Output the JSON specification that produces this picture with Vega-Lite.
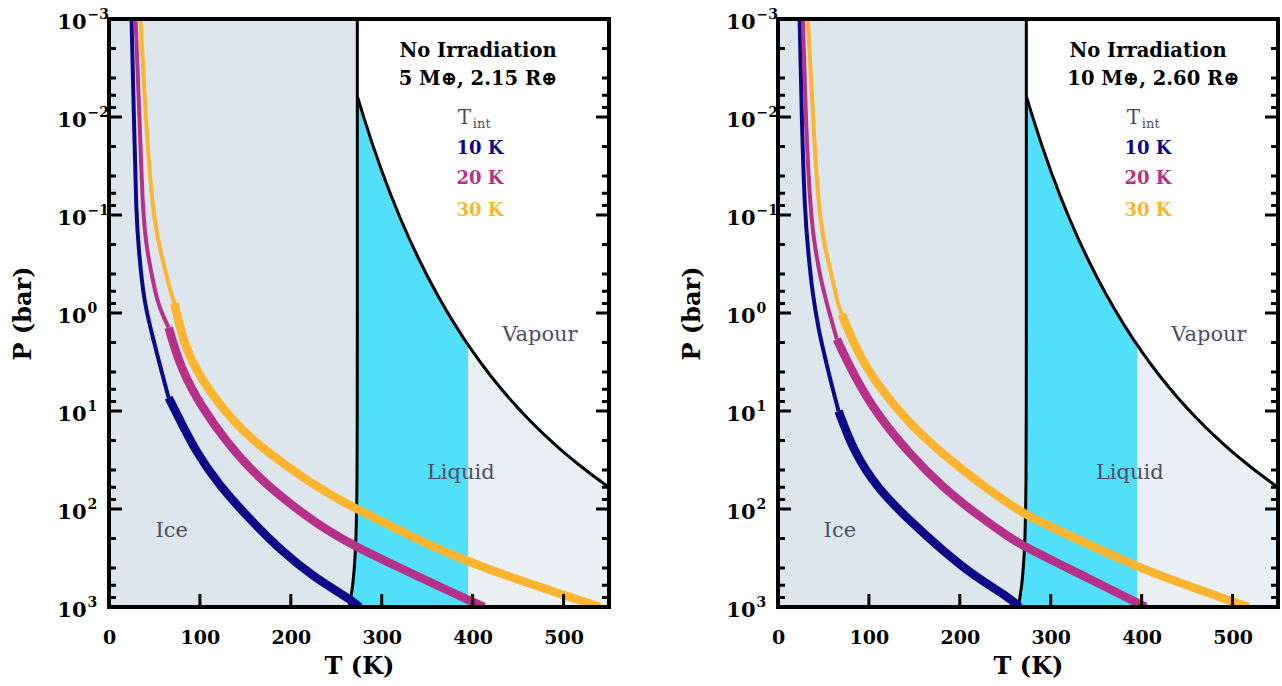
{
  "$schema": "https://vega.github.io/schema/vega-lite/v6.json",
  "background": "white",
  "padding": {"left": 11, "top": 7, "right": 0, "bottom": 0},
  "bounds": "flush",
  "spacing": 169,
  "config": {
    "view": {"stroke": null},
    "font": "DejaVu Serif",
    "axis": {
      "domain": false, "ticks": false, "grid": false, "zindex": 1,
      "labelFont": "DejaVu Serif", "labelFontWeight": "bold", "labelFontSize": 19, "labelColor": "black",
      "titleFont": "DejaVu Serif", "titleFontWeight": "bold", "titleFontSize": 24, "titleColor": "black"
    }
  },
  "datasets": {
    "yticks": [
      {"P": 0.001, "k": "major"}, {"P": 0.002, "k": "minor"}, {"P": 0.004, "k": "minor"}, {"P": 0.006, "k": "minor"}, {"P": 0.008, "k": "minor"},
      {"P": 0.01, "k": "major"}, {"P": 0.02, "k": "minor"}, {"P": 0.04, "k": "minor"}, {"P": 0.06, "k": "minor"}, {"P": 0.08, "k": "minor"},
      {"P": 0.1, "k": "major"}, {"P": 0.2, "k": "minor"}, {"P": 0.4, "k": "minor"}, {"P": 0.6, "k": "minor"}, {"P": 0.8, "k": "minor"},
      {"P": 1, "k": "major"}, {"P": 2, "k": "minor"}, {"P": 4, "k": "minor"}, {"P": 6, "k": "minor"}, {"P": 8, "k": "minor"},
      {"P": 10, "k": "major"}, {"P": 20, "k": "minor"}, {"P": 40, "k": "minor"}, {"P": 60, "k": "minor"}, {"P": 80, "k": "minor"},
      {"P": 100, "k": "major"}, {"P": 200, "k": "minor"}, {"P": 400, "k": "minor"}, {"P": 600, "k": "minor"}, {"P": 800, "k": "minor"},
      {"P": 1000, "k": "major"}
    ],
    "xticks": [{"T": 100}, {"T": 200}, {"T": 300}, {"T": 400}, {"T": 500}],
    "sat": [
      {"T": 273.16, "P": 0.00612}, {"T": 280, "P": 0.00991}, {"T": 290, "P": 0.0192}, {"T": 300, "P": 0.0354},
      {"T": 310, "P": 0.0623}, {"T": 320, "P": 0.1055}, {"T": 330, "P": 0.1719}, {"T": 340, "P": 0.2713},
      {"T": 350, "P": 0.4163}, {"T": 360, "P": 0.6218}, {"T": 370, "P": 0.9065}, {"T": 380, "P": 1.2916},
      {"T": 390, "P": 1.802}, {"T": 395, "P": 2.11}, {"T": 400, "P": 2.4663}, {"T": 410, "P": 3.3169},
      {"T": 420, "P": 4.3897}, {"T": 430, "P": 5.7237}, {"T": 440, "P": 7.3609}, {"T": 450, "P": 9.3464},
      {"T": 460, "P": 11.726}, {"T": 470, "P": 14.551}, {"T": 480, "P": 17.873}, {"T": 490, "P": 21.747},
      {"T": 500, "P": 26.231}, {"T": 510, "P": 31.384}, {"T": 520, "P": 37.27}, {"T": 530, "P": 43.955},
      {"T": 540, "P": 51.506}, {"T": 550, "P": 59.993}
    ],
    "melt": [
      {"T": 273.16, "P": 0.001}, {"T": 273.16, "P": 1}, {"T": 273.08, "P": 10}, {"T": 272.8, "P": 50},
      {"T": 272.4, "P": 100}, {"T": 271.6, "P": 200}, {"T": 270.7, "P": 300}, {"T": 269.8, "P": 400},
      {"T": 268.9, "P": 500}, {"T": 268.0, "P": 600}, {"T": 267.0, "P": 700}, {"T": 266.1, "P": 800},
      {"T": 265.2, "P": 900}, {"T": 264.2, "P": 1000}
    ],
    "liquid": [
      {"P": 0.00612, "T": 273.16, "T2": 273.16}, {"P": 0.00991, "T": 273.16, "T2": 280}, {"P": 0.0192, "T": 273.16, "T2": 290},
      {"P": 0.0354, "T": 273.16, "T2": 300}, {"P": 0.0623, "T": 273.16, "T2": 310}, {"P": 0.1055, "T": 273.16, "T2": 320},
      {"P": 0.1719, "T": 273.16, "T2": 330}, {"P": 0.2713, "T": 273.16, "T2": 340}, {"P": 0.4163, "T": 273.16, "T2": 350},
      {"P": 0.6218, "T": 273.16, "T2": 360}, {"P": 0.9065, "T": 273.16, "T2": 370}, {"P": 1.2916, "T": 273.16, "T2": 380},
      {"P": 1.802, "T": 273.15, "T2": 390}, {"P": 2.11, "T": 273.15, "T2": 395}, {"P": 10, "T": 273.08, "T2": 395},
      {"P": 50, "T": 272.8, "T2": 395}, {"P": 100, "T": 272.4, "T2": 395}, {"P": 200, "T": 271.6, "T2": 395},
      {"P": 300, "T": 270.7, "T2": 395}, {"P": 400, "T": 269.8, "T2": 395}, {"P": 500, "T": 268.9, "T2": 395},
      {"P": 600, "T": 268.0, "T2": 395}, {"P": 700, "T": 267.0, "T2": 395}, {"P": 800, "T": 266.1, "T2": 395},
      {"P": 900, "T": 265.2, "T2": 395}, {"P": 1000, "T": 264.2, "T2": 395}
    ],
    "curves": [
      {"p": "a", "s": "10 K", "z": "radiative", "T": 24.8, "P": 0.001}, {"p": "a", "s": "10 K", "z": "radiative", "T": 27.4, "P": 0.01},
      {"p": "a", "s": "10 K", "z": "radiative", "T": 29.9, "P": 0.1}, {"p": "a", "s": "10 K", "z": "radiative", "T": 32.8, "P": 0.233},
      {"p": "a", "s": "10 K", "z": "radiative", "T": 38.3, "P": 0.755}, {"p": "a", "s": "10 K", "z": "radiative", "T": 47.4, "P": 1.65},
      {"p": "a", "s": "10 K", "z": "radiative", "T": 56.6, "P": 3.61}, {"p": "a", "s": "10 K", "z": "radiative", "T": 65.6, "P": 7.31},
      {"p": "a", "s": "10 K", "z": "convective", "T": 65.6, "P": 7.31}, {"p": "a", "s": "10 K", "z": "convective", "T": 73.0, "P": 10},
      {"p": "a", "s": "10 K", "z": "convective", "T": 94.9, "P": 25.6}, {"p": "a", "s": "10 K", "z": "convective", "T": 120.4, "P": 56},
      {"p": "a", "s": "10 K", "z": "convective", "T": 153.2, "P": 122.7}, {"p": "a", "s": "10 K", "z": "convective", "T": 189.6, "P": 268.5},
      {"p": "a", "s": "10 K", "z": "convective", "T": 226.1, "P": 502}, {"p": "a", "s": "10 K", "z": "convective", "T": 262.6, "P": 803},
      {"p": "a", "s": "10 K", "z": "convective", "T": 275.7, "P": 1000},
      {"p": "a", "s": "20 K", "z": "radiative", "T": 29.2, "P": 0.001}, {"p": "a", "s": "20 K", "z": "radiative", "T": 33.6, "P": 0.01},
      {"p": "a", "s": "20 K", "z": "radiative", "T": 37.2, "P": 0.1}, {"p": "a", "s": "20 K", "z": "radiative", "T": 41.9, "P": 0.233},
      {"p": "a", "s": "20 K", "z": "radiative", "T": 48, "P": 0.45}, {"p": "a", "s": "20 K", "z": "radiative", "T": 53, "P": 0.755},
      {"p": "a", "s": "20 K", "z": "radiative", "T": 60, "P": 1.1}, {"p": "a", "s": "20 K", "z": "radiative", "T": 65.6, "P": 1.41},
      {"p": "a", "s": "20 K", "z": "convective", "T": 65.6, "P": 1.41}, {"p": "a", "s": "20 K", "z": "convective", "T": 78.4, "P": 3.61},
      {"p": "a", "s": "20 K", "z": "convective", "T": 102.1, "P": 9.25}, {"p": "a", "s": "20 K", "z": "convective", "T": 131.3, "P": 21.9},
      {"p": "a", "s": "20 K", "z": "convective", "T": 164.1, "P": 47.9}, {"p": "a", "s": "20 K", "z": "convective", "T": 204.3, "P": 97},
      {"p": "a", "s": "20 K", "z": "convective", "T": 240.7, "P": 167.5}, {"p": "a", "s": "20 K", "z": "convective", "T": 273.5, "P": 247},
      {"p": "a", "s": "20 K", "z": "convective", "T": 310, "P": 360}, {"p": "a", "s": "20 K", "z": "convective", "T": 346.5, "P": 521},
      {"p": "a", "s": "20 K", "z": "convective", "T": 382.9, "P": 751}, {"p": "a", "s": "20 K", "z": "convective", "T": 412.5, "P": 1000},
      {"p": "a", "s": "30 K", "z": "radiative", "T": 34.7, "P": 0.001}, {"p": "a", "s": "30 K", "z": "radiative", "T": 40.2, "P": 0.01},
      {"p": "a", "s": "30 K", "z": "radiative", "T": 48.2, "P": 0.1}, {"p": "a", "s": "30 K", "z": "radiative", "T": 56.6, "P": 0.233},
      {"p": "a", "s": "30 K", "z": "radiative", "T": 62, "P": 0.372}, {"p": "a", "s": "30 K", "z": "radiative", "T": 67.5, "P": 0.597},
      {"p": "a", "s": "30 K", "z": "radiative", "T": 71.9, "P": 0.791},
      {"p": "a", "s": "30 K", "z": "convective", "T": 71.9, "P": 0.791}, {"p": "a", "s": "30 K", "z": "convective", "T": 83.9, "P": 2.44},
      {"p": "a", "s": "30 K", "z": "convective", "T": 109.4, "P": 6.25}, {"p": "a", "s": "30 K", "z": "convective", "T": 145.8, "P": 16},
      {"p": "a", "s": "30 K", "z": "convective", "T": 182.4, "P": 29.9}, {"p": "a", "s": "30 K", "z": "convective", "T": 218.8, "P": 51.8},
      {"p": "a", "s": "30 K", "z": "convective", "T": 255.3, "P": 82.8}, {"p": "a", "s": "30 K", "z": "convective", "T": 273.5, "P": 100.7},
      {"p": "a", "s": "30 K", "z": "convective", "T": 310, "P": 149}, {"p": "a", "s": "30 K", "z": "convective", "T": 346.5, "P": 221},
      {"p": "a", "s": "30 K", "z": "convective", "T": 393.9, "P": 340}, {"p": "a", "s": "30 K", "z": "convective", "T": 437.6, "P": 483},
      {"p": "a", "s": "30 K", "z": "convective", "T": 492.3, "P": 711}, {"p": "a", "s": "30 K", "z": "convective", "T": 540, "P": 1000},
      {"p": "b", "s": "10 K", "z": "radiative", "T": 23.8, "P": 0.001}, {"p": "b", "s": "10 K", "z": "radiative", "T": 26, "P": 0.01},
      {"p": "b", "s": "10 K", "z": "radiative", "T": 29.6, "P": 0.1}, {"p": "b", "s": "10 K", "z": "radiative", "T": 33.2, "P": 0.233},
      {"p": "b", "s": "10 K", "z": "radiative", "T": 37.5, "P": 0.6}, {"p": "b", "s": "10 K", "z": "radiative", "T": 45, "P": 1.53},
      {"p": "b", "s": "10 K", "z": "radiative", "T": 50.1, "P": 2.44}, {"p": "b", "s": "10 K", "z": "radiative", "T": 58, "P": 5},
      {"p": "b", "s": "10 K", "z": "radiative", "T": 66.6, "P": 10},
      {"p": "b", "s": "10 K", "z": "convective", "T": 66.6, "P": 10}, {"p": "b", "s": "10 K", "z": "convective", "T": 83, "P": 25.6},
      {"p": "b", "s": "10 K", "z": "convective", "T": 108.6, "P": 60.7}, {"p": "b", "s": "10 K", "z": "convective", "T": 145.1, "P": 132.4},
      {"p": "b", "s": "10 K", "z": "convective", "T": 181.7, "P": 268.5}, {"p": "b", "s": "10 K", "z": "convective", "T": 218.2, "P": 502},
      {"p": "b", "s": "10 K", "z": "convective", "T": 254.7, "P": 803}, {"p": "b", "s": "10 K", "z": "convective", "T": 265.4, "P": 1000},
      {"p": "b", "s": "20 K", "z": "radiative", "T": 27.4, "P": 0.001}, {"p": "b", "s": "20 K", "z": "radiative", "T": 30.3, "P": 0.01},
      {"p": "b", "s": "20 K", "z": "radiative", "T": 35.8, "P": 0.1}, {"p": "b", "s": "20 K", "z": "radiative", "T": 41.3, "P": 0.233},
      {"p": "b", "s": "20 K", "z": "radiative", "T": 47, "P": 0.45}, {"p": "b", "s": "20 K", "z": "radiative", "T": 53, "P": 0.755},
      {"p": "b", "s": "20 K", "z": "radiative", "T": 59, "P": 1.2}, {"p": "b", "s": "20 K", "z": "radiative", "T": 64.7, "P": 1.85},
      {"p": "b", "s": "20 K", "z": "convective", "T": 64.7, "P": 1.85}, {"p": "b", "s": "20 K", "z": "convective", "T": 83, "P": 4.23},
      {"p": "b", "s": "20 K", "z": "convective", "T": 108.6, "P": 10.8}, {"p": "b", "s": "20 K", "z": "convective", "T": 145.1, "P": 27.7},
      {"p": "b", "s": "20 K", "z": "convective", "T": 181.7, "P": 60.7}, {"p": "b", "s": "20 K", "z": "convective", "T": 218.2, "P": 113},
      {"p": "b", "s": "20 K", "z": "convective", "T": 254.7, "P": 196}, {"p": "b", "s": "20 K", "z": "convective", "T": 273, "P": 247},
      {"p": "b", "s": "20 K", "z": "convective", "T": 309.5, "P": 364}, {"p": "b", "s": "20 K", "z": "convective", "T": 346.2, "P": 537},
      {"p": "b", "s": "20 K", "z": "convective", "T": 382.7, "P": 791}, {"p": "b", "s": "20 K", "z": "convective", "T": 404.6, "P": 1000},
      {"p": "b", "s": "30 K", "z": "radiative", "T": 32.9, "P": 0.001}, {"p": "b", "s": "30 K", "z": "radiative", "T": 38.4, "P": 0.01},
      {"p": "b", "s": "30 K", "z": "radiative", "T": 45, "P": 0.1}, {"p": "b", "s": "30 K", "z": "radiative", "T": 52.3, "P": 0.233},
      {"p": "b", "s": "30 K", "z": "radiative", "T": 63.3, "P": 0.6}, {"p": "b", "s": "30 K", "z": "radiative", "T": 65.5, "P": 0.8},
      {"p": "b", "s": "30 K", "z": "radiative", "T": 70.2, "P": 1.03},
      {"p": "b", "s": "30 K", "z": "convective", "T": 70.2, "P": 1.03}, {"p": "b", "s": "30 K", "z": "convective", "T": 86.6, "P": 2.44},
      {"p": "b", "s": "30 K", "z": "convective", "T": 108.6, "P": 5.35}, {"p": "b", "s": "30 K", "z": "convective", "T": 145.1, "P": 13.7},
      {"p": "b", "s": "30 K", "z": "convective", "T": 181.7, "P": 27.7}, {"p": "b", "s": "30 K", "z": "convective", "T": 218.2, "P": 51.8},
      {"p": "b", "s": "30 K", "z": "convective", "T": 254.7, "P": 89.5}, {"p": "b", "s": "30 K", "z": "convective", "T": 273, "P": 115},
      {"p": "b", "s": "30 K", "z": "convective", "T": 309.5, "P": 167.5}, {"p": "b", "s": "30 K", "z": "convective", "T": 346.2, "P": 241.6},
      {"p": "b", "s": "30 K", "z": "convective", "T": 393.6, "P": 382}, {"p": "b", "s": "30 K", "z": "convective", "T": 437.5, "P": 549},
      {"p": "b", "s": "30 K", "z": "convective", "T": 492.3, "P": 828}, {"p": "b", "s": "30 K", "z": "convective", "T": 517.5, "P": 1000}
    ]
  },
  "hconcat": [
    {
      "width": 500, "height": 588,
      "resolve": {"axis": {"x": "independent", "y": "independent"}},
      "layer": [
        {
          "data": {"name": "melt"},
          "mark": {"type": "area", "orient": "horizontal", "color": "#dde6ec", "clip": true},
          "encoding": {
            "y": {"field": "P", "type": "quantitative", "scale": {"type": "log", "domain": [0.001, 1000], "reverse": true},
              "axis": {"orient": "left", "title": "P (bar)", "titlePadding": 21, "values": [0.001, 0.01, 0.1, 1, 10, 100, 1000],
                "labelExpr": "'10'", "labelPadding": 23, "labelFontSize": 21, "labelOffset": 3,
                "labelFlush": false, "labelOverlap": false, "zindex": 1}},
            "x": {"field": "T", "type": "quantitative", "scale": {"domain": [0, 550]},
              "axis": {"orient": "bottom", "title": "T (K)", "values": [0, 100, 200, 300, 400, 500],
                "labelPadding": 21, "titlePadding": 7, "labelFlush": false, "zindex": 1}},
            "x2": {"datum": 0}
          }
        },
        {
          "data": {"name": "sat"},
          "transform": [{"filter": "datum.T >= 395"}],
          "mark": {"type": "area", "color": "#eaf0f3", "clip": true},
          "encoding": {
            "x": {"field": "T", "type": "quantitative", "scale": {"domain": [0, 550]}, "axis": null},
            "y": {"field": "P", "type": "quantitative", "scale": {"type": "log", "domain": [0.001, 1000], "reverse": true}, "axis": null},
            "y2": {"datum": 1000}
          }
        },
        {
          "data": {"name": "liquid"},
          "mark": {"type": "area", "orient": "horizontal", "color": "#52dffa", "clip": true},
          "encoding": {
            "y": {"field": "P", "type": "quantitative", "scale": {"type": "log", "domain": [0.001, 1000], "reverse": true}, "axis": null},
            "x": {"field": "T", "type": "quantitative", "scale": {"domain": [0, 550]}, "axis": null},
            "x2": {"field": "T2"}
          }
        },
        {
          "data": {"name": "melt"},
          "mark": {"type": "line", "color": "black", "strokeWidth": 3, "clip": true},
          "encoding": {
            "y": {"field": "P", "type": "quantitative", "scale": {"type": "log", "domain": [0.001, 1000], "reverse": true}, "axis": null},
            "x": {"field": "T", "type": "quantitative", "scale": {"domain": [0, 550]}, "axis": null},
            "order": {"field": "P", "type": "quantitative"}
          }
        },
        {
          "data": {"name": "sat"},
          "mark": {"type": "line", "color": "black", "strokeWidth": 3, "clip": true},
          "encoding": {
            "y": {"field": "P", "type": "quantitative", "scale": {"type": "log", "domain": [0.001, 1000], "reverse": true}, "axis": null},
            "x": {"field": "T", "type": "quantitative", "scale": {"domain": [0, 550]}, "axis": null},
            "order": {"field": "T", "type": "quantitative"}
          }
        },
        {
          "data": {"name": "curves"},
          "transform": [{"filter": "datum.p == 'a'"}],
          "mark": {"type": "line", "clip": true, "strokeCap": "butt", "interpolate": "basis"},
          "encoding": {
            "y": {"field": "P", "type": "quantitative", "scale": {"type": "log", "domain": [0.001, 1000], "reverse": true}, "axis": null},
            "x": {"field": "T", "type": "quantitative", "scale": {"domain": [0, 550]}, "axis": null},
            "color": {"field": "s", "type": "nominal", "scale": {"domain": ["10 K", "20 K", "30 K"], "range": ["#0d0887", "#b7318a", "#fdb52f"]}, "legend": null},
            "strokeWidth": {"field": "z", "type": "ordinal", "scale": {"domain": ["radiative", "convective"], "range": [4, 8.5]}, "legend": null},
            "order": {"field": "P", "type": "quantitative"}
          }
        },
        {
          "data": {"name": "yticks"},
          "mark": {"type": "tick", "orient": "horizontal", "color": "black", "thickness": 3, "clip": true, "opacity": 1},
          "encoding": {
            "y": {"field": "P", "type": "quantitative", "scale": {"type": "log", "domain": [0.001, 1000], "reverse": true}, "axis": null},
            "x": {"datum": 0, "scale": {"domain": [0, 550]}, "axis": null},
            "size": {"field": "k", "type": "nominal", "scale": {"domain": ["major", "minor"], "range": [26, 14]}, "legend": null}
          }
        },
        {
          "data": {"name": "yticks"},
          "mark": {"type": "tick", "orient": "horizontal", "color": "black", "thickness": 3, "clip": true, "opacity": 1},
          "encoding": {
            "y": {"field": "P", "type": "quantitative", "scale": {"type": "log", "domain": [0.001, 1000], "reverse": true}, "axis": null},
            "x": {"datum": 550, "scale": {"domain": [0, 550]}, "axis": null},
            "size": {"field": "k", "type": "nominal", "scale": {"domain": ["major", "minor"], "range": [26, 14]}, "legend": null}
          }
        },
        {
          "data": {"name": "xticks"},
          "mark": {"type": "tick", "orient": "vertical", "color": "black", "thickness": 3, "clip": true, "opacity": 1, "size": 26},
          "encoding": {
            "x": {"field": "T", "type": "quantitative", "scale": {"domain": [0, 550]}, "axis": null},
            "y": {"datum": 1000, "scale": {"type": "log", "domain": [0.001, 1000], "reverse": true}, "axis": null}
          }
        },
        {
          "data": {"values": [{"frame": "plot"}]},
          "mark": {"type": "rect", "fill": null, "stroke": "black", "strokeWidth": 4},
          "encoding": {
            "x": {"datum": 0, "scale": {"domain": [0, 550]}, "axis": null},
            "x2": {"datum": 550},
            "y": {"datum": 0.001, "scale": {"type": "log", "domain": [0.001, 1000], "reverse": true}, "axis": null},
            "y2": {"datum": 1000}
          }
        },
        {
          "data": {"values": [{"label": "No Irradiation"}]},
          "mark": {"type": "text", "font": "DejaVu Serif", "fontWeight": "bold", "fontSize": 19.5, "color": "black"},
          "encoding": {"text": {"field": "label"},
            "x": {"datum": 406, "scale": {"domain": [0, 550]}, "axis": null},
            "y": {"datum": 0.00212, "scale": {"type": "log", "domain": [0.001, 1000], "reverse": true},
              "axis": {"orient": "left", "title": null, "values": [0.001, 0.01, 0.1, 1, 10, 100, 1000],
                "labelExpr": "datum.value==0.001?'−3':datum.value==0.01?'−2':datum.value==0.1?'−1':datum.value==1?'0':datum.value==10?'1':datum.value==100?'2':'3'",
                "labelAlign": "left", "labelPadding": 22, "labelFontSize": 14, "labelOffset": -5,
                "labelFlush": false, "labelOverlap": false, "zindex": 1}}}
        },
        {
          "data": {"values": [{"label": "5 M⊕, 2.15 R⊕"}]},
          "mark": {"type": "text", "font": "DejaVu Serif", "fontWeight": "bold", "fontSize": 19.5, "color": "black"},
          "encoding": {"text": {"field": "label"},
            "x": {"datum": 406, "scale": {"domain": [0, 550]}, "axis": null},
            "y": {"datum": 0.0041, "scale": {"type": "log", "domain": [0.001, 1000], "reverse": true}, "axis": null}}
        },
        {
          "data": {"values": [{"label": "T"}]},
          "mark": {"type": "text", "font": "DejaVu Serif", "fontSize": 20, "color": "#4d4d66"},
          "encoding": {"text": {"field": "label"},
            "x": {"datum": 391, "scale": {"domain": [0, 550]}, "axis": null},
            "y": {"datum": 0.0102, "scale": {"type": "log", "domain": [0.001, 1000], "reverse": true}, "axis": null}}
        },
        {
          "data": {"values": [{"label": "int"}]},
          "mark": {"type": "text", "font": "DejaVu Serif", "fontSize": 13, "color": "#4d4d66"},
          "encoding": {"text": {"field": "label"},
            "x": {"datum": 410, "scale": {"domain": [0, 550]}, "axis": null},
            "y": {"datum": 0.0118, "scale": {"type": "log", "domain": [0.001, 1000], "reverse": true}, "axis": null}}
        },
        {
          "data": {"values": [{"label": "10 K"}]},
          "mark": {"type": "text", "font": "DejaVu Serif", "fontWeight": "bold", "fontSize": 18, "color": "#0d0887"},
          "encoding": {"text": {"field": "label"},
            "x": {"datum": 408, "scale": {"domain": [0, 550]}, "axis": null},
            "y": {"datum": 0.0212, "scale": {"type": "log", "domain": [0.001, 1000], "reverse": true}, "axis": null}}
        },
        {
          "data": {"values": [{"label": "20 K"}]},
          "mark": {"type": "text", "font": "DejaVu Serif", "fontWeight": "bold", "fontSize": 18, "color": "#b7318a"},
          "encoding": {"text": {"field": "label"},
            "x": {"datum": 408, "scale": {"domain": [0, 550]}, "axis": null},
            "y": {"datum": 0.043, "scale": {"type": "log", "domain": [0.001, 1000], "reverse": true}, "axis": null}}
        },
        {
          "data": {"values": [{"label": "30 K"}]},
          "mark": {"type": "text", "font": "DejaVu Serif", "fontWeight": "bold", "fontSize": 18, "color": "#fdb52f"},
          "encoding": {"text": {"field": "label"},
            "x": {"datum": 408, "scale": {"domain": [0, 550]}, "axis": null},
            "y": {"datum": 0.091, "scale": {"type": "log", "domain": [0.001, 1000], "reverse": true}, "axis": null}}
        },
        {
          "data": {"values": [{"label": "Vapour"}]},
          "mark": {"type": "text", "font": "DejaVu Serif", "fontSize": 21, "color": "#4d4d66"},
          "encoding": {"text": {"field": "label"},
            "x": {"datum": 474, "scale": {"domain": [0, 550]}, "axis": null},
            "y": {"datum": 1.675, "scale": {"type": "log", "domain": [0.001, 1000], "reverse": true}, "axis": null}}
        },
        {
          "data": {"values": [{"label": "Liquid"}]},
          "mark": {"type": "text", "font": "DejaVu Serif", "fontSize": 21, "color": "#4d4d66"},
          "encoding": {"text": {"field": "label"},
            "x": {"datum": 387, "scale": {"domain": [0, 550]}, "axis": null},
            "y": {"datum": 43, "scale": {"type": "log", "domain": [0.001, 1000], "reverse": true}, "axis": null}}
        },
        {
          "data": {"values": [{"label": "Ice"}]},
          "mark": {"type": "text", "font": "DejaVu Serif", "fontSize": 21, "color": "#4d4d66"},
          "encoding": {"text": {"field": "label"},
            "x": {"datum": 69, "scale": {"domain": [0, 550]}, "axis": null},
            "y": {"datum": 167.5, "scale": {"type": "log", "domain": [0.001, 1000], "reverse": true}, "axis": null}}
        }
      ]
    },
    {
      "width": 500, "height": 588,
      "resolve": {"axis": {"x": "independent", "y": "independent"}},
      "layer": [
        {
          "data": {"name": "melt"},
          "mark": {"type": "area", "orient": "horizontal", "color": "#dde6ec", "clip": true},
          "encoding": {
            "y": {"field": "P", "type": "quantitative", "scale": {"type": "log", "domain": [0.001, 1000], "reverse": true},
              "axis": {"orient": "left", "title": "P (bar)", "titlePadding": 21, "values": [0.001, 0.01, 0.1, 1, 10, 100, 1000],
                "labelExpr": "'10'", "labelPadding": 23, "labelFontSize": 21, "labelOffset": 3,
                "labelFlush": false, "labelOverlap": false, "zindex": 1}},
            "x": {"field": "T", "type": "quantitative", "scale": {"domain": [0, 550]},
              "axis": {"orient": "bottom", "title": "T (K)", "values": [0, 100, 200, 300, 400, 500],
                "labelPadding": 21, "titlePadding": 7, "labelFlush": false, "zindex": 1}},
            "x2": {"datum": 0}
          }
        },
        {
          "data": {"name": "sat"},
          "transform": [{"filter": "datum.T >= 395"}],
          "mark": {"type": "area", "color": "#eaf0f3", "clip": true},
          "encoding": {
            "x": {"field": "T", "type": "quantitative", "scale": {"domain": [0, 550]}, "axis": null},
            "y": {"field": "P", "type": "quantitative", "scale": {"type": "log", "domain": [0.001, 1000], "reverse": true}, "axis": null},
            "y2": {"datum": 1000}
          }
        },
        {
          "data": {"name": "liquid"},
          "mark": {"type": "area", "orient": "horizontal", "color": "#52dffa", "clip": true},
          "encoding": {
            "y": {"field": "P", "type": "quantitative", "scale": {"type": "log", "domain": [0.001, 1000], "reverse": true}, "axis": null},
            "x": {"field": "T", "type": "quantitative", "scale": {"domain": [0, 550]}, "axis": null},
            "x2": {"field": "T2"}
          }
        },
        {
          "data": {"name": "melt"},
          "mark": {"type": "line", "color": "black", "strokeWidth": 3, "clip": true},
          "encoding": {
            "y": {"field": "P", "type": "quantitative", "scale": {"type": "log", "domain": [0.001, 1000], "reverse": true}, "axis": null},
            "x": {"field": "T", "type": "quantitative", "scale": {"domain": [0, 550]}, "axis": null},
            "order": {"field": "P", "type": "quantitative"}
          }
        },
        {
          "data": {"name": "sat"},
          "mark": {"type": "line", "color": "black", "strokeWidth": 3, "clip": true},
          "encoding": {
            "y": {"field": "P", "type": "quantitative", "scale": {"type": "log", "domain": [0.001, 1000], "reverse": true}, "axis": null},
            "x": {"field": "T", "type": "quantitative", "scale": {"domain": [0, 550]}, "axis": null},
            "order": {"field": "T", "type": "quantitative"}
          }
        },
        {
          "data": {"name": "curves"},
          "transform": [{"filter": "datum.p == 'b'"}],
          "mark": {"type": "line", "clip": true, "strokeCap": "butt", "interpolate": "basis"},
          "encoding": {
            "y": {"field": "P", "type": "quantitative", "scale": {"type": "log", "domain": [0.001, 1000], "reverse": true}, "axis": null},
            "x": {"field": "T", "type": "quantitative", "scale": {"domain": [0, 550]}, "axis": null},
            "color": {"field": "s", "type": "nominal", "scale": {"domain": ["10 K", "20 K", "30 K"], "range": ["#0d0887", "#b7318a", "#fdb52f"]}, "legend": null},
            "strokeWidth": {"field": "z", "type": "ordinal", "scale": {"domain": ["radiative", "convective"], "range": [4, 8.5]}, "legend": null},
            "order": {"field": "P", "type": "quantitative"}
          }
        },
        {
          "data": {"name": "yticks"},
          "mark": {"type": "tick", "orient": "horizontal", "color": "black", "thickness": 3, "clip": true, "opacity": 1},
          "encoding": {
            "y": {"field": "P", "type": "quantitative", "scale": {"type": "log", "domain": [0.001, 1000], "reverse": true}, "axis": null},
            "x": {"datum": 0, "scale": {"domain": [0, 550]}, "axis": null},
            "size": {"field": "k", "type": "nominal", "scale": {"domain": ["major", "minor"], "range": [26, 14]}, "legend": null}
          }
        },
        {
          "data": {"name": "yticks"},
          "mark": {"type": "tick", "orient": "horizontal", "color": "black", "thickness": 3, "clip": true, "opacity": 1},
          "encoding": {
            "y": {"field": "P", "type": "quantitative", "scale": {"type": "log", "domain": [0.001, 1000], "reverse": true}, "axis": null},
            "x": {"datum": 550, "scale": {"domain": [0, 550]}, "axis": null},
            "size": {"field": "k", "type": "nominal", "scale": {"domain": ["major", "minor"], "range": [26, 14]}, "legend": null}
          }
        },
        {
          "data": {"name": "xticks"},
          "mark": {"type": "tick", "orient": "vertical", "color": "black", "thickness": 3, "clip": true, "opacity": 1, "size": 26},
          "encoding": {
            "x": {"field": "T", "type": "quantitative", "scale": {"domain": [0, 550]}, "axis": null},
            "y": {"datum": 1000, "scale": {"type": "log", "domain": [0.001, 1000], "reverse": true}, "axis": null}
          }
        },
        {
          "data": {"values": [{"frame": "plot"}]},
          "mark": {"type": "rect", "fill": null, "stroke": "black", "strokeWidth": 4},
          "encoding": {
            "x": {"datum": 0, "scale": {"domain": [0, 550]}, "axis": null},
            "x2": {"datum": 550},
            "y": {"datum": 0.001, "scale": {"type": "log", "domain": [0.001, 1000], "reverse": true}, "axis": null},
            "y2": {"datum": 1000}
          }
        },
        {
          "data": {"values": [{"label": "No Irradiation"}]},
          "mark": {"type": "text", "font": "DejaVu Serif", "fontWeight": "bold", "fontSize": 19.5, "color": "black"},
          "encoding": {"text": {"field": "label"},
            "x": {"datum": 407, "scale": {"domain": [0, 550]}, "axis": null},
            "y": {"datum": 0.00212, "scale": {"type": "log", "domain": [0.001, 1000], "reverse": true},
              "axis": {"orient": "left", "title": null, "values": [0.001, 0.01, 0.1, 1, 10, 100, 1000],
                "labelExpr": "datum.value==0.001?'−3':datum.value==0.01?'−2':datum.value==0.1?'−1':datum.value==1?'0':datum.value==10?'1':datum.value==100?'2':'3'",
                "labelAlign": "left", "labelPadding": 22, "labelFontSize": 14, "labelOffset": -5,
                "labelFlush": false, "labelOverlap": false, "zindex": 1}}}
        },
        {
          "data": {"values": [{"label": "10 M⊕, 2.60 R⊕"}]},
          "mark": {"type": "text", "font": "DejaVu Serif", "fontWeight": "bold", "fontSize": 19.5, "color": "black"},
          "encoding": {"text": {"field": "label"},
            "x": {"datum": 413, "scale": {"domain": [0, 550]}, "axis": null},
            "y": {"datum": 0.0041, "scale": {"type": "log", "domain": [0.001, 1000], "reverse": true}, "axis": null}}
        },
        {
          "data": {"values": [{"label": "T"}]},
          "mark": {"type": "text", "font": "DejaVu Serif", "fontSize": 20, "color": "#4d4d66"},
          "encoding": {"text": {"field": "label"},
            "x": {"datum": 391, "scale": {"domain": [0, 550]}, "axis": null},
            "y": {"datum": 0.0102, "scale": {"type": "log", "domain": [0.001, 1000], "reverse": true}, "axis": null}}
        },
        {
          "data": {"values": [{"label": "int"}]},
          "mark": {"type": "text", "font": "DejaVu Serif", "fontSize": 13, "color": "#4d4d66"},
          "encoding": {"text": {"field": "label"},
            "x": {"datum": 410, "scale": {"domain": [0, 550]}, "axis": null},
            "y": {"datum": 0.0118, "scale": {"type": "log", "domain": [0.001, 1000], "reverse": true}, "axis": null}}
        },
        {
          "data": {"values": [{"label": "10 K"}]},
          "mark": {"type": "text", "font": "DejaVu Serif", "fontWeight": "bold", "fontSize": 18, "color": "#0d0887"},
          "encoding": {"text": {"field": "label"},
            "x": {"datum": 407, "scale": {"domain": [0, 550]}, "axis": null},
            "y": {"datum": 0.0212, "scale": {"type": "log", "domain": [0.001, 1000], "reverse": true}, "axis": null}}
        },
        {
          "data": {"values": [{"label": "20 K"}]},
          "mark": {"type": "text", "font": "DejaVu Serif", "fontWeight": "bold", "fontSize": 18, "color": "#b7318a"},
          "encoding": {"text": {"field": "label"},
            "x": {"datum": 407, "scale": {"domain": [0, 550]}, "axis": null},
            "y": {"datum": 0.043, "scale": {"type": "log", "domain": [0.001, 1000], "reverse": true}, "axis": null}}
        },
        {
          "data": {"values": [{"label": "30 K"}]},
          "mark": {"type": "text", "font": "DejaVu Serif", "fontWeight": "bold", "fontSize": 18, "color": "#fdb52f"},
          "encoding": {"text": {"field": "label"},
            "x": {"datum": 407, "scale": {"domain": [0, 550]}, "axis": null},
            "y": {"datum": 0.091, "scale": {"type": "log", "domain": [0.001, 1000], "reverse": true}, "axis": null}}
        },
        {
          "data": {"values": [{"label": "Vapour"}]},
          "mark": {"type": "text", "font": "DejaVu Serif", "fontSize": 21, "color": "#4d4d66"},
          "encoding": {"text": {"field": "label"},
            "x": {"datum": 474, "scale": {"domain": [0, 550]}, "axis": null},
            "y": {"datum": 1.675, "scale": {"type": "log", "domain": [0.001, 1000], "reverse": true}, "axis": null}}
        },
        {
          "data": {"values": [{"label": "Liquid"}]},
          "mark": {"type": "text", "font": "DejaVu Serif", "fontSize": 21, "color": "#4d4d66"},
          "encoding": {"text": {"field": "label"},
            "x": {"datum": 387, "scale": {"domain": [0, 550]}, "axis": null},
            "y": {"datum": 43, "scale": {"type": "log", "domain": [0.001, 1000], "reverse": true}, "axis": null}}
        },
        {
          "data": {"values": [{"label": "Ice"}]},
          "mark": {"type": "text", "font": "DejaVu Serif", "fontSize": 21, "color": "#4d4d66"},
          "encoding": {"text": {"field": "label"},
            "x": {"datum": 68, "scale": {"domain": [0, 550]}, "axis": null},
            "y": {"datum": 167.5, "scale": {"type": "log", "domain": [0.001, 1000], "reverse": true}, "axis": null}}
        }
      ]
    }
  ]
}
